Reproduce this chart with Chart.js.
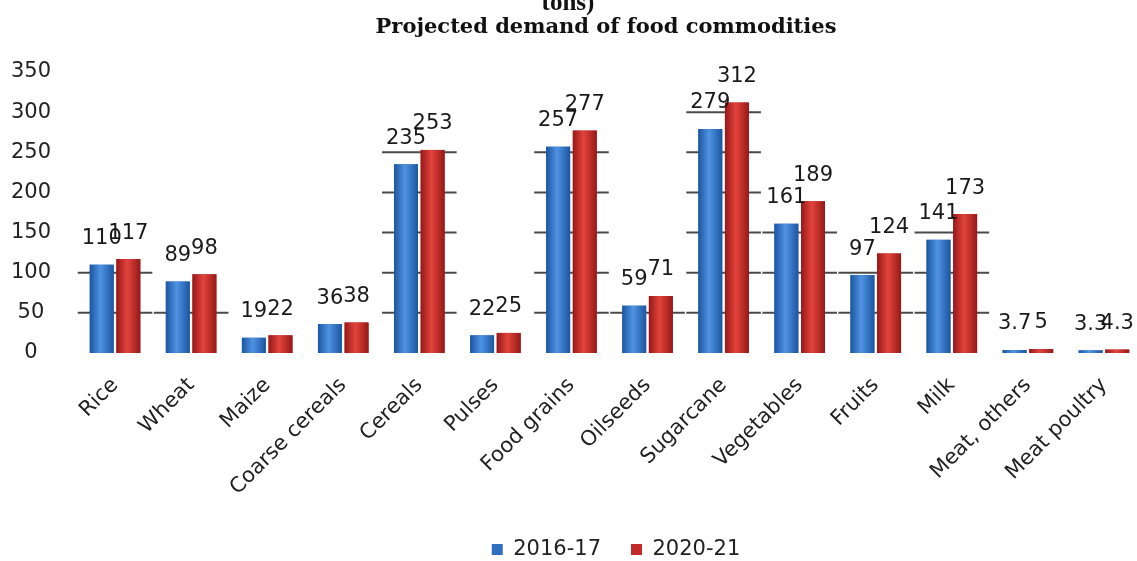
<!DOCTYPE html>
<html>
<head>
<meta charset="utf-8">
<script src="https://cdn.jsdelivr.net/npm/chart.js@4"></script>
<style>
  body { margin: 0; background: #fff; overflow: hidden; }
  #wrap { width: 1137px; height: 561px; overflow: hidden; position: relative; }
</style>
</head>
<body>
<div id="wrap"><canvas id="myChart" width="1142" height="570"></canvas></div>
<script>
// data
const categories = ['Rice', 'Wheat', 'Maize', 'Coarse cereals', 'Cereals', 'Pulses', 'Food grains',
  'Oilseeds', 'Sugarcane', 'Vegetables', 'Fruits', 'Milk', 'Meat, others', 'Meat poultry']
const demand2016 = [110, 89, 19, 36, 235, 22, 257, 59, 279, 161, 97, 141, 3.7, 3.3]
const demand2020 = [117, 98, 22, 38, 253, 25, 277, 71, 312, 189, 124, 173, 5, 4.3]
const yTicks = [0, 50, 100, 150, 200, 250, 300, 350]

const blue = ['#1b55a0', '#4f93e3']
const red = ['#971818', '#e2443c']

// gridline stubs around bar groups, gradient shading, value labels, titles
const barLook = {
  id: 'barLook',
  beforeDatasetsDraw(chart) {
    const ctx = chart.ctx
    const y = chart.scales.y
    const m0 = chart.getDatasetMeta(0).data
    const m1 = chart.getDatasetMeta(1).data
    ctx.save()
    ctx.strokeStyle = '#4a4a4a'
    ctx.lineWidth = 2
    for (let i = 0; i < categories.length; i++) {
      const top = Math.max(demand2016[i], demand2020[i])
      const l = m0[i].x - m0[i].width / 2 - 12
      const r = m1[i].x + m1[i].width / 2 + 12
      yTicks.forEach(v => {
        if (v > 0 && v <= top) {
          const py = y.getPixelForValue(v)
          ctx.beginPath()
          ctx.moveTo(l, py)
          ctx.lineTo(r, py)
          ctx.stroke()
        }
      })
    }
    ctx.restore()
  },
  afterDatasetsDraw(chart) {
    const ctx = chart.ctx
    ctx.save()
    ;[[0, blue], [1, red]].forEach(([d, c]) => {
      chart.getDatasetMeta(d).data.forEach(el => {
        const l = el.x - el.width / 2
        const g = ctx.createLinearGradient(l, 0, l + el.width, 0)
        g.addColorStop(0, c[0])
        g.addColorStop(0.45, c[1])
        g.addColorStop(1, c[0])
        ctx.fillStyle = g
        ctx.fillRect(l, el.y, el.width, el.base - el.y)
      })
    })
    ctx.font = '21px "DejaVu Sans"'
    ctx.fillStyle = '#1a1a1a'
    ctx.textAlign = 'center'
    ctx.textBaseline = 'middle'
    ;[demand2016, demand2020].forEach((vals, d) => {
      chart.getDatasetMeta(d).data.forEach((el, i) => {
        ctx.fillText(String(vals[i]), el.x, el.y - 26)
      })
    })
    // titles
    ctx.fillStyle = '#111'
    ctx.font = 'bold 25px "Liberation Serif"'
    ctx.fillText('tons)', 568, 4)
    ctx.font = 'bold 21px "DejaVu Serif"'
    ctx.fillText('Projected demand of food commodities', 606, 28)
    ctx.restore()
  },
  afterLayout(chart) {
    chart.legend.left += 45
    chart.legend.right += 45
  }
}

const ctx = document.getElementById('myChart')

new Chart(ctx, {
  type: 'bar',
  data: {
    labels: categories,
    datasets: [{
      label: '2016-17',
      data: demand2016,
      backgroundColor: '#2e6fc0',
      borderWidth: 0
    }, {
      label: '2020-21',
      data: demand2020,
      backgroundColor: '#c42a2a',
      borderWidth: 0
    }]
  },
  options: {
    responsive: false,
    animation: false,
    categoryPercentage: 0.7,
    barPercentage: 0.9,
    layout: { padding: { top: 72, left: 0, right: 0, bottom: 0 } },
    plugins: {
      title: { display: false },
      tooltip: { enabled: false },
      legend: {
        position: 'bottom',
        labels: {
          boxWidth: 11,
          boxHeight: 11,
          padding: 30,
          color: '#222',
          font: { family: 'DejaVu Sans', size: 21 }
        }
      }
    },
    scales: {
      x: {
        grid: { display: false },
        border: { display: false },
        ticks: {
          minRotation: 45,
          maxRotation: 45,
          padding: 12,
          color: '#222',
          font: { family: 'DejaVu Sans', size: 21 }
        },
        afterFit(scale) { scale.height = 156 }
      },
      y: {
        min: 0,
        max: 350,
        grid: { display: false },
        border: { display: false },
        afterBuildTicks(scale) { scale.ticks = yTicks.map(v => ({ value: v })) },
        ticks: {
          crossAlign: 'center',
          padding: 18,
          color: '#222',
          font: { family: 'DejaVu Sans', size: 21 }
        },
        afterFit(scale) { scale.width = 77 }
      }
    }
  },
  plugins: [barLook]
})
</script>
</body>
</html>
